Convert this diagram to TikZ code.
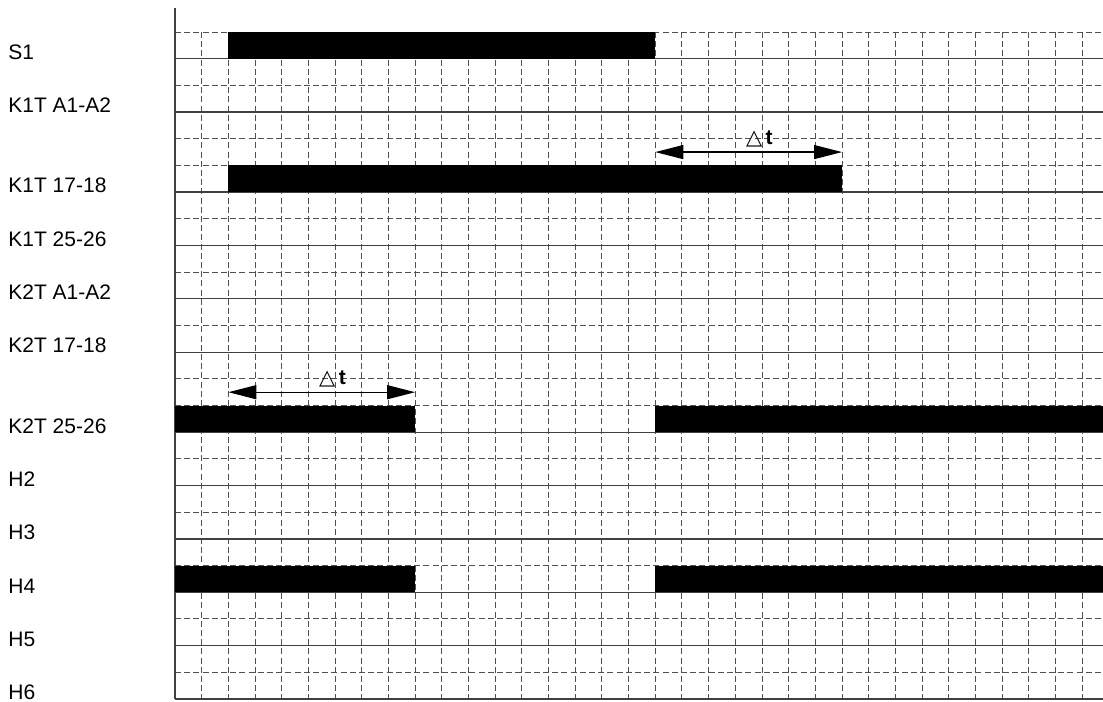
\documentclass[tikz,border=0pt]{standalone}
\usepackage{fontspec}
\setmainfont{Liberation Sans}
\newfontfamily\symfont{DejaVu Sans}
\usetikzlibrary{arrows.meta}
\definecolor{gridGray}{HTML}{505050}
\definecolor{lineGray}{HTML}{404040}
\tikzset{
  gridD/.style={gridGray, line width=0.5pt, dash pattern=on 3pt off 1.6pt},
  lineS/.style={lineGray, line width=0.6pt},
  barOn/.style={fill=black, draw=none},
  arrowDt/.style={{Triangle[length=14pt,width=7pt]}-{Triangle[length=14pt,width=7pt]},
                  black, line width=0.6pt},
  sigLabel/.style={anchor=base west, font=\fontsize{10.5}{12}\selectfont, inner sep=0pt},
  dtLabel/.style={font=\fontsize{10.5}{12}\selectfont, inner sep=0pt},
}
\begin{document}
\begin{tikzpicture}[x=13.34pt, y=-13.34pt]
  \useasboundingbox (-6.56,-1.2) rectangle (34.78,25.11);
  % grid
  \foreach \c in {1,...,34}
    \draw[gridD] (\c,0) -- (\c,25);
  \foreach \r in {0,2,4,5,7,9,11,13,14,16,18,20,22,24}
    \draw[gridD] (0,\r) -- (34.78,\r);
  \foreach \r in {1,3,6,8,10,12,15,17,19,21,23,25}
    \draw[lineS] (0,\r) -- (34.78,\r);
  \draw[lineS] (0,-0.9) -- (0,25);
  % signal names
  \foreach \r/\nm/\txt in {1/s1/S1, 3/k1a/K1T A1-A2, 6/k1b/K1T 17-18, 8/k1c/K1T 25-26,
      10/k2a/K2T A1-A2, 12/k2b/K2T 17-18, 15/k2c/K2T 25-26, 17/h2/H2,
      19/h3/H3, 21/h4/H4, 23/h5/H5, 25/h6/H6}
    \node[sigLabel] (\nm) at (-6.26,\r+0.03) {\txt};
  % states
  \fill[barOn] (2,0) rectangle (18,1);
  \fill[barOn] (2,5) rectangle (25,6);
  \fill[barOn] (0,14) rectangle (9,15);
  \fill[barOn] (18,14) rectangle (34.78,15);
  \fill[barOn] (0,20) rectangle (9,21);
  \fill[barOn] (18,20) rectangle (34.78,21);
  % delays
  \coordinate (dtA1) at (18,4.5);
  \coordinate (dtB1) at (25,4.5);
  \draw[arrowDt] (dtA1) -- (dtB1);
  \node[dtLabel] (dt1) at (21.9,4) {{\symfont △}\,\textbf{t}};
  \coordinate (dtA2) at (2,13.5);
  \coordinate (dtB2) at (9,13.5);
  \draw[arrowDt] (dtA2) -- (dtB2);
  \node[dtLabel] (dt2) at (5.9,13) {{\symfont △}\,\textbf{t}};
\end{tikzpicture}
\end{document}
